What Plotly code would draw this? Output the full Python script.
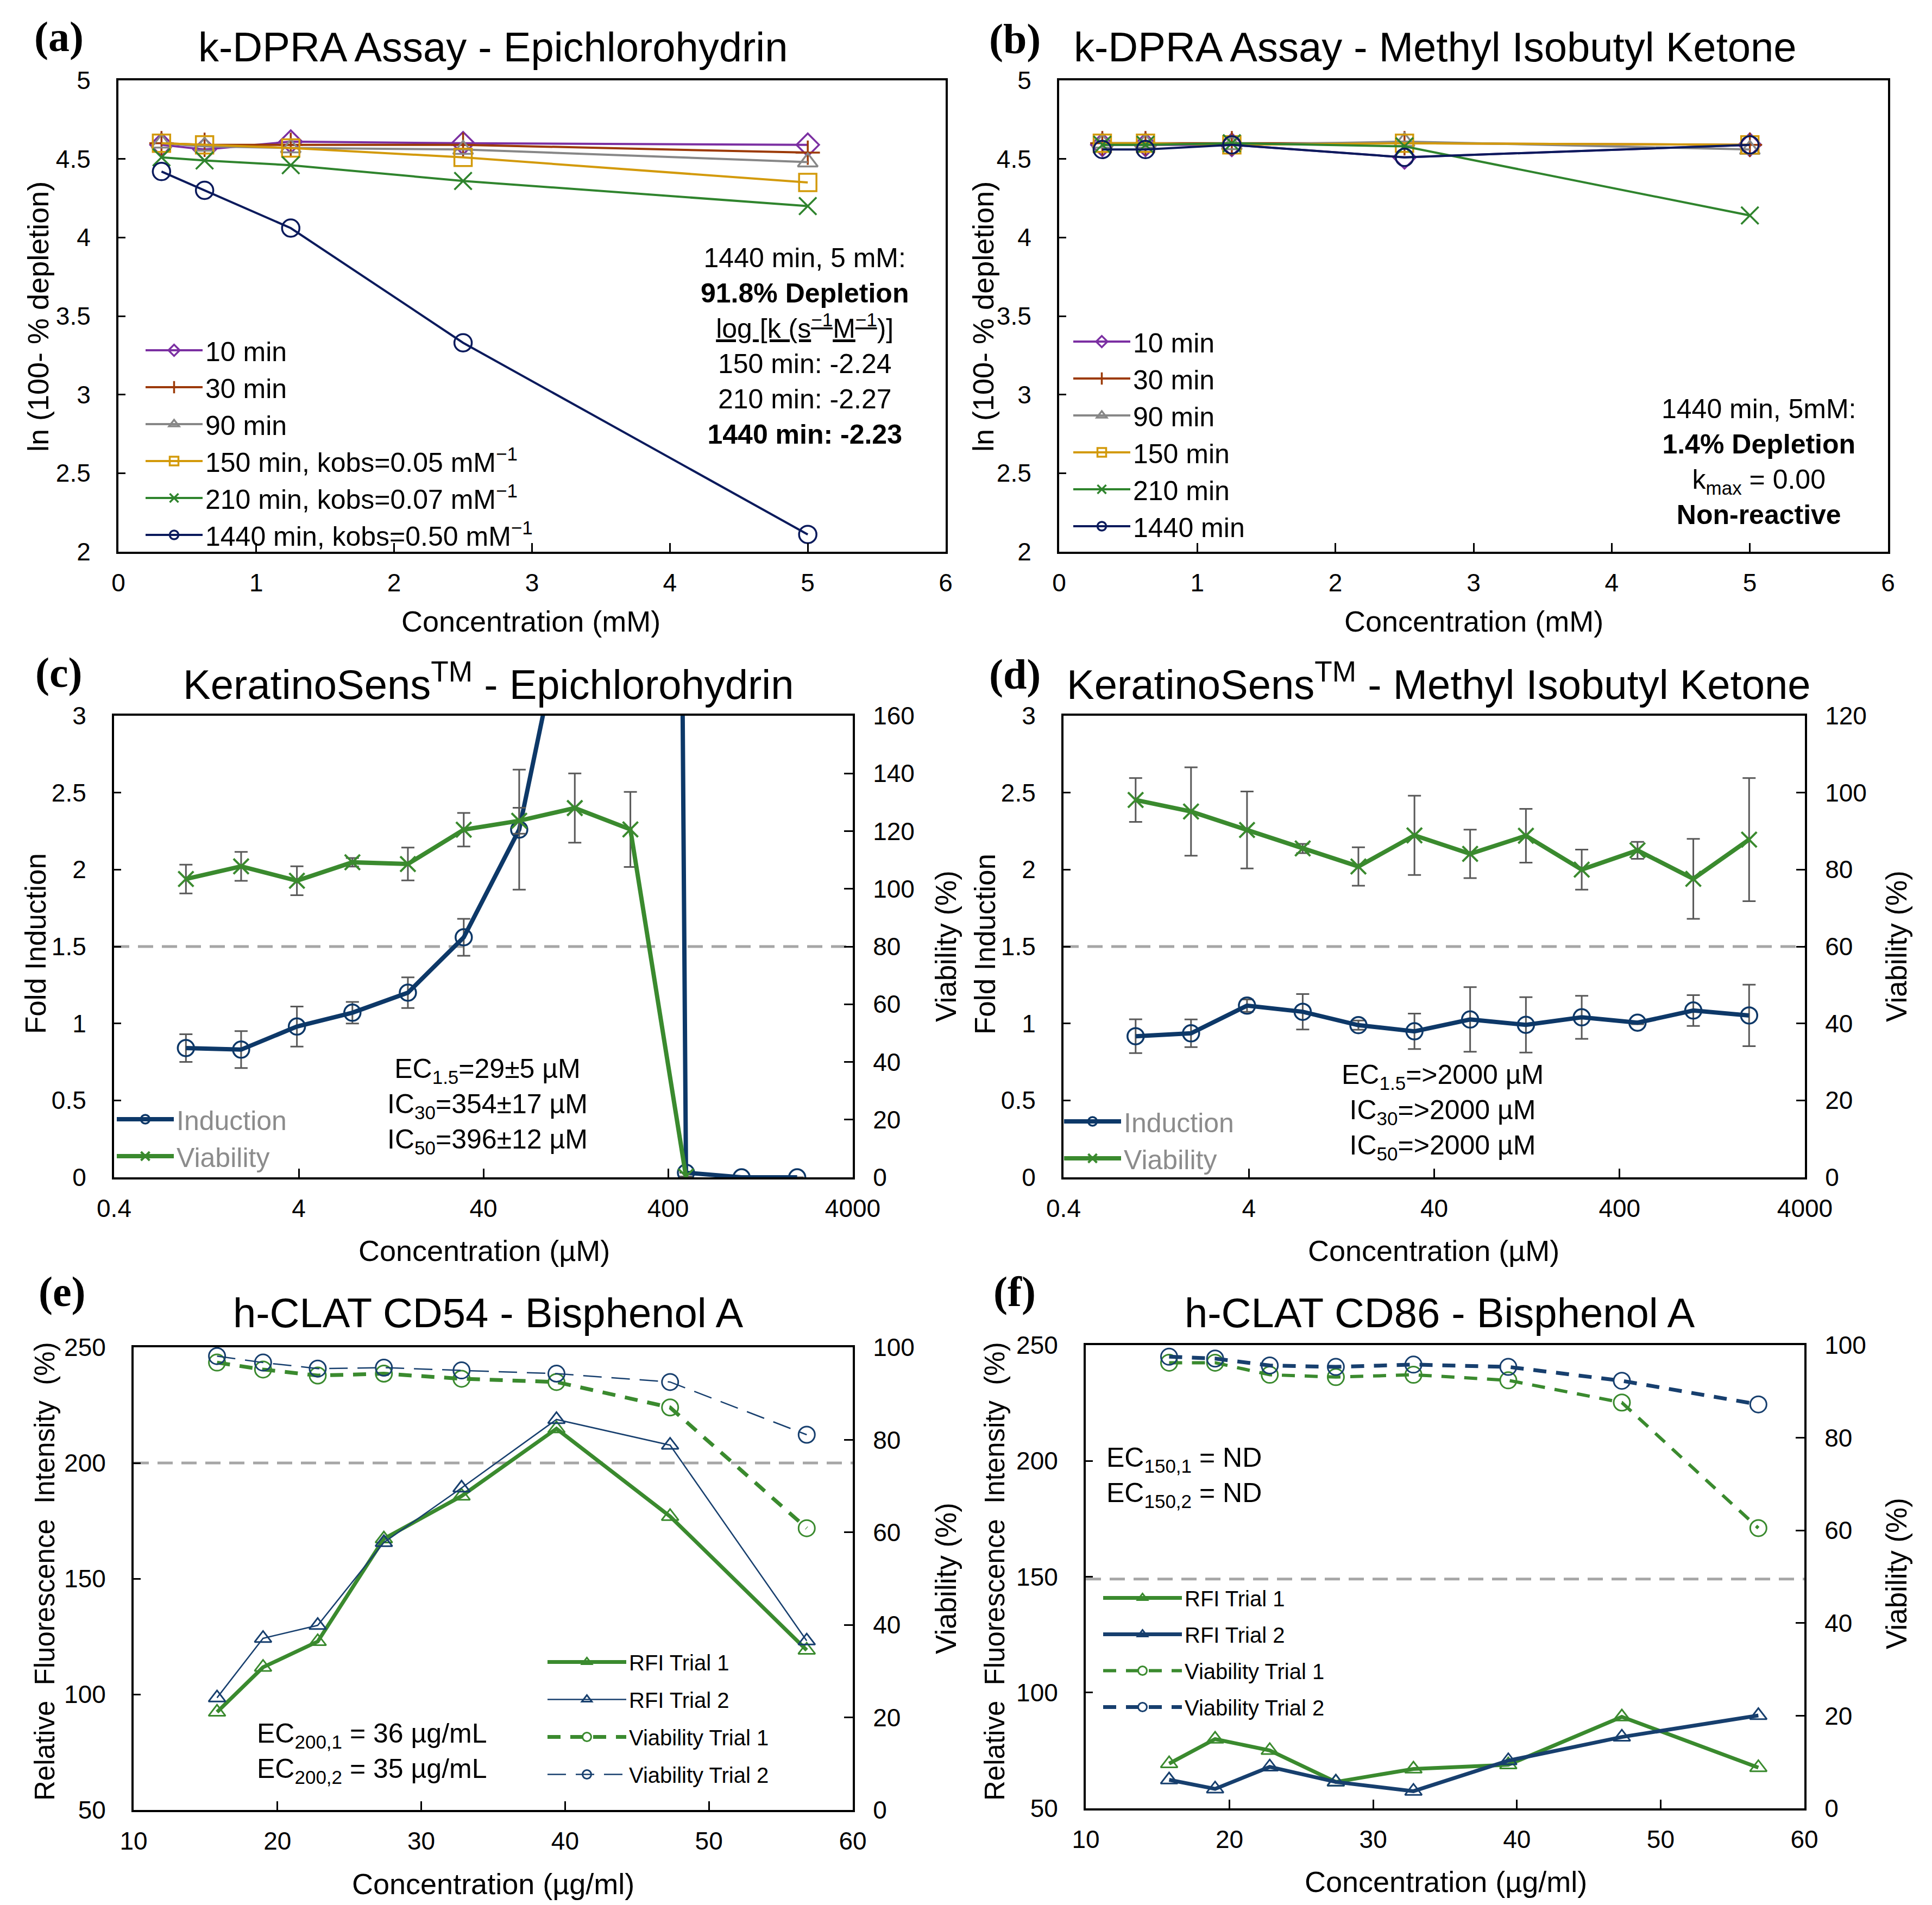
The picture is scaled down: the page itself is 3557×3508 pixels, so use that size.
import plotly.graph_objects as go

W, H = 3557, 3508
FONT = "Liberation Sans"

# ---------------- data ----------------
# k-DPRA (panels a, b): ln(100 - % depletion) vs concentration (mM)
dpraConc = [0.3125, 0.625, 1.25, 2.5, 5]

epi10 = [4.59, 4.56, 4.61, 4.60, 4.59]
epi30 = [4.60, 4.59, 4.59, 4.59, 4.54]
epi90 = [4.60, 4.58, 4.57, 4.56, 4.48]
epi150 = [4.60, 4.59, 4.57, 4.51, 4.35]
epi210 = [4.51, 4.49, 4.46, 4.36, 4.20]
epi1440 = [4.42, 4.30, 4.06, 3.33, 2.11]

mibk10 = [4.59, 4.59, 4.59, 4.51, 4.59]
mibk30 = [4.60, 4.60, 4.60, 4.60, 4.59]
mibk90 = [4.60, 4.60, 4.59, 4.61, 4.56]
mibk150 = [4.60, 4.60, 4.59, 4.60, 4.59]
mibk210 = [4.59, 4.59, 4.60, 4.58, 4.14]
mibk1440 = [4.56, 4.56, 4.59, 4.51, 4.59]

epiNames = ["10 min", "30 min", "90 min",
            "150 min, kobs=0.05 mM<sup>\u22121</sup>",
            "210 min, kobs=0.07 mM<sup>\u22121</sup>",
            "1440 min, kobs=0.50 mM<sup>\u22121</sup>"]
mibkNames = ["10 min", "30 min", "90 min", "150 min", "210 min", "1440 min"]

# KeratinoSens (panels c, d)
ksConc = [0.98, 1.95, 3.91, 7.81, 15.6, 31.3, 62.5, 125, 250, 500, 1000, 2000]
epiInd = [0.84, 0.83, 0.98, 1.07, 1.20, 1.56, 2.26, 4.0, 50.0, 0.03, 0.0, 0.0]
epiIndErr = [0.09, 0.12, 0.13, 0.07, 0.10, 0.12, 0.39, None, None, None, None, None]
epiViaConc = [0.98, 1.95, 3.91, 7.81, 15.6, 31.3, 62.5, 125, 250, 500]
epiVia = [103.4, 107.8, 102.8, 109.2, 108.6, 120.5, 123.6, 128.0, 120.6, 0.3]
epiViaErr = [5.0, 5.0, 5.0, 1.5, 5.7, 5.8, 4.5, 12.0, 13.0, None]

mibkInd = [0.917, 0.936, 1.116, 1.076, 0.989, 0.949, 1.026, 0.991, 1.04, 1.005, 1.084, 1.052]
mibkIndErr = [0.11, 0.09, 0.04, 0.115, 0.03, 0.115, 0.21, 0.18, 0.14, 0.01, 0.10, 0.20]
mibkVia = [98.1, 95.1, 90.3, 85.5, 80.8, 88.9, 84.1, 88.8, 80.0, 85.0, 77.6, 87.8]
mibkViaErr = [5.7, 11.5, 10.0, 1.2, 5.0, 10.3, 6.3, 7.0, 5.2, 2.2, 10.4, 16.0]

ksThreshold = 1.5

# h-CLAT (panels e, f)
hclatConc = [15.8, 19.0, 22.8, 27.4, 32.8, 39.4, 47.3, 56.8]
cd54Rfi1 = [92.3, 111.7, 122.8, 167.2, 185.7, 214.8, 176.9, 119.1]
cd54Rfi2 = [98.5, 124.2, 129.8, 165.6, 189.2, 218.8, 207.7, 123.1]
cd54Via1 = [96.7, 95.2, 93.9, 94.3, 93.2, 92.5, 87.0, 60.9]
cd54Via2 = [98.1, 96.7, 95.4, 95.6, 95.0, 94.3, 92.5, 81.1]
cd86Rfi1 = [69.3, 79.9, 75.0, 61.4, 67.0, 68.8, 89.5, 67.6]
cd86Rfi2 = [62.3, 58.4, 67.9, 61.4, 57.4, 70.6, 80.8, 90.1]
cd86Via1 = [96.2, 96.2, 93.6, 93.1, 93.6, 92.4, 87.6, 60.5]
cd86Via2 = [97.5, 97.1, 95.6, 95.3, 95.8, 95.3, 92.3, 87.2]

cd54Threshold = 200
cd86Threshold = 149

# ---------------- styles ----------------
dpraColors = ["#7B2FA2", "#9C3A07", "#878787", "#D39A0B", "#2F842D", "#0A1A5C"]
dpraSymbols = ["diamond-open", "cross-thin", "triangle-up-open", "square-open", "x-thin", "circle-open"]
navy = "#0D3868"
green = "#3A8A2E"
blue = "#173F6E"
errColor = "#595959"


def px(x):
    return x / W


def py(y):
    return 1 - y / H


def scatter(x, y, name, color, symbol, xa, ya, legend, width=4, size=26, dash="solid",
            err=None, mlw=3, group=None):
    tr = dict(type="scatter", x=x, y=y, name=name, mode="lines+markers", xaxis=xa, yaxis=ya,
              legend=legend, line=dict(color=color, width=width, dash=dash),
              marker=dict(symbol=symbol, size=size, color=color, line=dict(color=color, width=mlw)))
    if err is not None:
        tr["error_y"] = dict(type="data", array=err, visible=True, color=errColor, thickness=3, width=12)
    if group is not None:
        tr["legendgroup"] = group
    return tr


data = []
epiSeries = [epi10, epi30, epi90, epi150, epi210, epi1440]
mibkSeries = [mibk10, mibk30, mibk90, mibk150, mibk210, mibk1440]
for i in range(6):
    data.append(scatter(dpraConc, epiSeries[i], epiNames[i], dpraColors[i], dpraSymbols[i],
                        "x", "y", "legend", width=4, size=32, mlw=3.5))
for i in range(6):
    data.append(scatter(dpraConc, mibkSeries[i], mibkNames[i], dpraColors[i], dpraSymbols[i],
                        "x2", "y2", "legend2", width=4, size=32, mlw=3.5))

# c
data.append(scatter(epiViaConc, epiVia, "Viability", green, "x-thin", "x3", "y7", "legend3",
                    width=8, size=28, err=epiViaErr, mlw=4))
data.append(scatter(ksConc, epiInd, "Induction", navy, "circle-open", "x3", "y3", "legend3",
                    width=8, size=30, err=epiIndErr, mlw=3.5))
# d
data.append(scatter(ksConc, mibkVia, "Viability", green, "x-thin", "x4", "y8", "legend4",
                    width=8, size=28, err=mibkViaErr, mlw=4))
data.append(scatter(ksConc, mibkInd, "Induction", navy, "circle-open", "x4", "y4", "legend4",
                    width=8, size=30, err=mibkIndErr, mlw=3.5))
# e
data.append(scatter(hclatConc, cd54Rfi1, "RFI Trial 1", green, "triangle-up-open", "x5", "y5", "legend5",
                    width=7, size=27, group="e1"))
data.append(scatter(hclatConc, cd54Rfi2, "RFI Trial 2", blue, "triangle-up-open", "x5", "y5", "legend5",
                    width=2.5, size=27, group="e2"))
data.append(scatter(hclatConc, cd54Via1, "Viability Trial 1", green, "circle-open", "x5", "y9", "legend5",
                    width=7, size=30, dash="24px,18px", group="e3"))
data.append(scatter(hclatConc, cd54Via2, "Viability Trial 2", blue, "circle-open", "x5", "y9", "legend5",
                    width=2.5, size=30, dash="34px,18px", group="e4"))
# f
data.append(scatter(hclatConc, cd86Rfi1, "RFI Trial 1", green, "triangle-up-open", "x6", "y6", "legend6",
                    width=7, size=27, group="f1"))
data.append(scatter(hclatConc, cd86Rfi2, "RFI Trial 2", blue, "triangle-up-open", "x6", "y6", "legend6",
                    width=7, size=27, group="f2"))
data.append(scatter(hclatConc, cd86Via1, "Viability Trial 1", green, "circle-open", "x6", "y10", "legend6",
                    width=6, size=30, dash="24px,18px", group="f3"))
data.append(scatter(hclatConc, cd86Via2, "Viability Trial 2", blue, "circle-open", "x6", "y10", "legend6",
                    width=7, size=30, dash="24px,18px", group="f4"))

# ---------------- axes ----------------
tickFont = dict(family=FONT, size=46, color="black")


def xaxis(x0, x1, y0, y1, anchor, **kw):
    d = dict(domain=[px(x0), px(x1)], anchor=anchor, showline=True, linecolor="black", linewidth=4,
             mirror=True, ticks="inside", ticklen=16, tickwidth=3, tickcolor="black",
             showgrid=False, zeroline=False, tickfont=tickFont, ticklabelstandoff=14,
             automargin=False)
    d.update(kw)
    return d


def yaxis(y0, y1, anchor, **kw):
    d = dict(domain=[py(y1), py(y0)], anchor=anchor, showline=True, linecolor="black", linewidth=4,
             mirror=True, ticks="inside", ticklen=13, tickwidth=3, tickcolor="black",
             showgrid=False, zeroline=False, tickfont=tickFont, ticklabelstandoff=38,
             automargin=False)
    d.update(kw)
    return d


def yright(overlay, anchor, rng):
    return dict(overlaying=overlay, anchor=anchor, side="right", range=rng, dtick=20, showline=True,
                linecolor="black", linewidth=4, ticks="inside", ticklen=16, tickwidth=3,
                tickcolor="black", showgrid=False, zeroline=False, tickfont=tickFont,
                ticklabelstandoff=24, automargin=False)


panels = {
    "a": (210, 1733, 140, 1008),
    "b": (1942, 3468, 140, 1008),
    "c": (202, 1562, 1310, 2160),
    "d": (1950, 3315, 1310, 2160),
    "e": (238, 1562, 2473, 3325),
    "f": (1991, 3314, 2469, 3322),
}

logTicks = [0.4, 4, 40, 400, 4000]
logRange = [-0.39794, 3.60206]

layout = dict(template="none", width=W, height=H, margin=dict(l=0, r=0, t=0, b=0),
              paper_bgcolor="white", plot_bgcolor="white", font=dict(family=FONT, color="black"))

a, b, c, d, e, f = (panels[k] for k in "abcdef")
layout["xaxis"] = xaxis(*a, "y", range=[0, 6], dtick=1)
layout["yaxis"] = yaxis(a[2], a[3], "x", range=[2, 5], dtick=0.5)
layout["xaxis2"] = xaxis(*b, "y2", range=[0, 6], dtick=1)
layout["yaxis2"] = yaxis(b[2], b[3], "x2", range=[2, 5], dtick=0.5)
layout["xaxis3"] = xaxis(*c, "y3", type="log", range=logRange, tickvals=logTicks,
                         ticktext=[str(t) for t in logTicks])
layout["yaxis3"] = yaxis(c[2], c[3], "x3", range=[0, 3], dtick=0.5, mirror=False)
layout["xaxis4"] = xaxis(*d, "y4", type="log", range=logRange, tickvals=logTicks,
                         ticktext=[str(t) for t in logTicks])
layout["yaxis4"] = yaxis(d[2], d[3], "x4", range=[0, 3], dtick=0.5, mirror=False)
layout["xaxis5"] = xaxis(*e, "y5", range=[10, 60], dtick=10)
layout["yaxis5"] = yaxis(e[2], e[3], "x5", range=[50, 250], dtick=50, mirror=False)
layout["xaxis6"] = xaxis(*f, "y6", range=[10, 60], dtick=10)
layout["yaxis6"] = yaxis(f[2], f[3], "x6", range=[50, 250], dtick=50, mirror=False)
layout["yaxis7"] = yright("y3", "x3", [0, 160])
layout["yaxis8"] = yright("y4", "x4", [0, 120])
layout["yaxis9"] = yright("y5", "x5", [0, 100])
layout["yaxis10"] = yright("y6", "x6", [0, 100])


# ---------------- legends ----------------
def legend(x, y, size, itemwidth, color="black", gap=0):
    return dict(x=px(x), y=py(y), xanchor="left", yanchor="top", xref="paper", yref="paper",
                bgcolor="rgba(0,0,0,0)", borderwidth=0, itemwidth=itemwidth, tracegroupgap=gap,
                font=dict(family=FONT, size=size, color=color))


layout["legend"] = legend(255, 598, 50, 105)
layout["legend2"] = legend(1963, 582, 50, 105)
legend3 = legend(202, 2014, 50, 105, color="#8C8C8C")
legend3["traceorder"] = "reversed"
layout["legend3"] = legend3
legend4 = legend(1946, 2018, 50, 105, color="#8C8C8C")
legend4["traceorder"] = "reversed"
layout["legend4"] = legend4
layout["legend5"] = legend(995, 3020, 40, 145, gap=14)
layout["legend6"] = legend(2018, 2902, 40, 145, gap=12)

# ---------------- threshold lines ----------------
dashLine = dict(color="#A6A6A6", width=5, dash="28px,16px")
layout["shapes"] = [
    dict(type="line", xref="x3 domain", yref="y3", x0=0, x1=1, y0=ksThreshold, y1=ksThreshold,
         line=dashLine, layer="below"),
    dict(type="line", xref="x4 domain", yref="y4", x0=0, x1=1, y0=ksThreshold, y1=ksThreshold,
         line=dashLine, layer="below"),
    dict(type="line", xref="x5 domain", yref="y5", x0=0, x1=1, y0=cd54Threshold, y1=cd54Threshold,
         line=dashLine, layer="below"),
    dict(type="line", xref="x6 domain", yref="y6", x0=0, x1=1, y0=cd86Threshold, y1=cd86Threshold,
         line=dashLine, layer="below"),
]

# ---------------- text ----------------
ann = []


def text(x, y, s, size=54, angle=0, xanchor="center", align="center", color="black", family=FONT):
    ann.append(dict(x=px(x), y=py(y), xref="paper", yref="paper", text=s, showarrow=False,
                    xanchor=xanchor, yanchor="middle", align=align, textangle=angle,
                    font=dict(family=family, size=size, color=color)))


# panel letters
for lab, (lx, ly) in zip("abcdef", [(100, 60), (1860, 64), (100, 1230), (1860, 1233), (106, 2370), (1860, 2370)]):
    text(lx, ly, "<b>(%s)</b>" % lab, size=78, family="Liberation Serif")

# titles
text(900, 78, "k-DPRA Assay - Epichlorohydrin", size=76)
text(2634, 78, "k-DPRA Assay - Methyl Isobutyl Ketone", size=76)
text(891, 1247, "KeratinoSens<sup>TM</sup> - Epichlorohydrin", size=76)
text(2641, 1247, "KeratinoSens<sup>TM</sup> - Methyl Isobutyl Ketone", size=76)
text(891, 2409, "h-CLAT CD54 - Bisphenol A", size=76)
text(2643, 2409, "h-CLAT CD86 - Bisphenol A", size=76)

# axis titles
sp = "\u00a0"
conc_um = "Concentration" + sp + "(\u00b5M)"
conc_ug = "Concentration" + sp + "(\u00b5g/ml)"
fold = "Fold Induction"
via = "Viability (%)"
rfi = "Relative" + sp * 2 + "Fluorescence" + sp * 2 + "Intensity" + sp * 2 + "(%)"
ln_t = "ln" + sp + "(100-" + sp + "%" + sp + "depletion)"

text(970, 1136, "Concentration (mM)")
text(2705, 1136, "Concentration (mM)")
text(62, 575, ln_t, angle=-90)
text(1802, 575, ln_t, angle=-90)
text(883, 2295, conc_um)
text(2631, 2295, conc_um)
text(57, 1730, fold, size=53, angle=-90)
text(1805, 1730, fold, size=53, angle=-90)
text(1733, 1735, via, size=53, angle=-90)
text(3483, 1735, via, size=53, angle=-90)
text(900, 3461, conc_ug)
text(2654, 3457, conc_ug)
text(74, 2886, rfi, size=51, angle=-90)
text(1823, 2886, rfi, size=51, angle=-90)
text(1733, 2899, via, size=53, angle=-90)
text(3483, 2890, via, size=53, angle=-90)

# in-plot notes
text(1473, 629, "1440 min, 5 mM:<br><b>91.8% Depletion</b><br>"
     "<span style='text-decoration:underline'>log [k (s<sup>\u22121</sup>M<sup>\u22121</sup>)]</span><br>"
     "150 min: -2.24<br>210 min: -2.27<br><b>1440 min: -2.23</b>", size=50)
text(3230, 842, "1440 min, 5mM:<br><b>1.4% Depletion</b><br>k<sub>max</sub> = 0.00<br><b>Non-reactive</b>",
     size=50)
text(889, 2028, "EC<sub>1.5</sub>=29\u00b15 \u00b5M<br>IC<sub>30</sub>=354\u00b117 \u00b5M<br>"
     "IC<sub>50</sub>=396\u00b112 \u00b5M", size=50)
text(2648, 2039, "EC<sub>1.5</sub>=&gt;2000 \u00b5M<br>IC<sub>30</sub>=&gt;2000 \u00b5M<br>"
     "IC<sub>50</sub>=&gt;2000 \u00b5M", size=50)
text(463, 3220, "EC<sub>200,1</sub> = 36 \u00b5g/mL<br>EC<sub>200,2</sub> = 35 \u00b5g/mL", size=50,
     xanchor="left", align="left")
text(2027, 2712, "EC<sub>150,1</sub> = ND<br>EC<sub>150,2</sub> = ND", size=50,
     xanchor="left", align="left")

layout["annotations"] = ann

fig = go.Figure(data=data, layout=layout)
fig.write_html("out.html")
